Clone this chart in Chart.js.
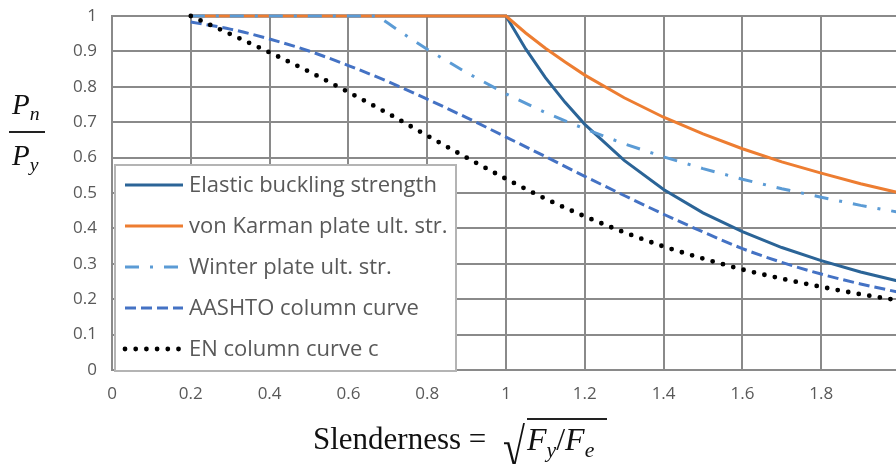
<!DOCTYPE html>
<html>
<head>
<meta charset="utf-8">
<script src="https://cdn.jsdelivr.net/npm/chart.js@4.4.0/dist/chart.umd.min.js"></script>
<style>
  html, body { margin: 0; padding: 0; background: #fff; overflow: hidden; }
  #wrap { position: relative; width: 910px; height: 464px; }
  .math { position: absolute; font-family: 'Liberation Serif', 'Times New Roman', serif; color: #111; white-space: nowrap; line-height: 1; }
  .math i { font-style: italic; }
  .sb { font-size: 0.68em; font-style: italic; position: relative; top: 0.3em; }
  #bar { position: absolute; left: 9px; top: 131px; width: 36px; height: 2px; background: #222; }
  #rad { position: absolute; left: 503px; top: 421px; font-size: 40px; transform: scaleY(1.35); transform-origin: top left; }
  #under { position: absolute; left: 527px; top: 418px; width: 80px; height: 1.5px; background: #222; }
</style>
</head>
<body>
<div id="wrap">
  <canvas id="chart"></canvas>
  <div class="math" style="left:12px; top:90px; font-size:29px"><i>P</i><span class="sb">n</span></div>
  <div id="bar"></div>
  <div class="math" style="left:12px; top:141px; font-size:29px"><i>P</i><span class="sb">y</span></div>
  <div class="math" style="left:313px; top:423px; font-size:31px">Slenderness =</div>
  <div class="math" id="rad">&#8730;</div>
  <div id="under"></div>
  <div class="math" style="left:527px; top:423px; font-size:32px"><i>F</i><span class="sb">y</span>/<i>F</i><span class="sb">e</span></div>
</div>
<script>
// axis ticks
const xTickValues = [0, 0.2, 0.4, 0.6, 0.8, 1, 1.2, 1.4, 1.6, 1.8, 2]
const yTickValues = [0, 0.1, 0.2, 0.3, 0.4, 0.5, 0.6, 0.7, 0.8, 0.9, 1]

const seriesNames = [
  'Elastic buckling strength',
  'von Karman plate ult. str.',
  'Winter plate ult. str.',
  'AASHTO column curve',
  'EN column curve c',
]

// elastic buckling
const elasticX = [0.2, 1, 1.05, 1.1, 1.15, 1.2, 1.3, 1.4, 1.5, 1.6, 1.7, 1.8, 1.9, 2]
const elasticY = [1, 1, 0.907, 0.826, 0.756, 0.694, 0.592, 0.51, 0.444, 0.391, 0.346, 0.309, 0.277, 0.25]

// von Karman
const karmanX = [0.2, 1, 1.05, 1.1, 1.15, 1.2, 1.3, 1.4, 1.5, 1.6, 1.7, 1.8, 1.9, 2]
const karmanY = [1, 1, 0.952, 0.909, 0.87, 0.833, 0.769, 0.714, 0.667, 0.625, 0.588, 0.556, 0.526, 0.5]

// Winter
const winterX = [0.2, 0.673, 0.7, 0.75, 0.8, 0.9, 1, 1.1, 1.2, 1.3, 1.4, 1.5, 1.6, 1.7, 1.8, 1.9, 2]
const winterY = [1, 1, 0.98, 0.942, 0.906, 0.84, 0.78, 0.727, 0.681, 0.639, 0.602, 0.569, 0.539, 0.512, 0.488, 0.465, 0.445]

// AASHTO + EN share the same x points
const columnX = [0.2, 0.3, 0.4, 0.5, 0.6, 0.7, 0.8, 0.9, 1, 1.1, 1.2, 1.3, 1.4, 1.5, 1.6, 1.7, 1.8, 1.9, 2]
const aashtoY = [0.983, 0.963, 0.935, 0.901, 0.86, 0.815, 0.765, 0.713, 0.658, 0.603, 0.547, 0.493, 0.44, 0.39, 0.343, 0.304, 0.271, 0.243, 0.219]
const enY = [1, 0.949, 0.897, 0.843, 0.785, 0.725, 0.662, 0.6, 0.54, 0.484, 0.434, 0.389, 0.349, 0.315, 0.284, 0.258, 0.235, 0.214, 0.196]

const pts = (xs, ys) => xs.map((x, i) => ({ x, y: ys[i] }))

const textFont = "'Open Sans', 'Noto Sans', sans-serif"

// legend drawn inside the plot, like the excel one
const legendBox = {
  id: 'legendBox',
  afterDraw(chart) {
    const { ctx, chartArea } = chart
    const left = chartArea.left + 3
    const top = 165
    const right = left + 341
    const bottom = chartArea.bottom + 1
    ctx.save()
    ctx.fillStyle = '#fff'
    ctx.fillRect(left, top, right - left, bottom - top)
    ctx.strokeStyle = '#b4b4b4'
    ctx.lineWidth = 2
    ctx.strokeRect(left, top, right - left, bottom - top)
    chart.data.datasets.forEach((ds, i) => {
      const y = top + 20 + i * 41
      ctx.beginPath()
      ctx.setLineDash(ds.borderDash || [])
      ctx.lineCap = ds.borderCapStyle || 'butt'
      ctx.strokeStyle = ds.borderColor
      ctx.lineWidth = ds.borderWidth
      ctx.moveTo(left + 10, y)
      ctx.lineTo(left + 68, y)
      ctx.stroke()
      ctx.setLineDash([])
      ctx.fillStyle = '#595959'
      ctx.font = '22px ' + textFont
      ctx.textBaseline = 'middle'
      ctx.fillText(ds.label, left + 74, y + 1)
    })
    ctx.restore()
  },
}

const gridColor = '#8a8a8a'
const tickFont = { family: textFont, size: 17 }

new Chart(document.getElementById('chart'), {
  type: 'line',
  data: {
    datasets: [
      {
        label: seriesNames[0],
        data: pts(elasticX, elasticY),
        borderColor: '#2b6497',
        borderWidth: 3,
        order: 4,
      },
      {
        label: seriesNames[1],
        data: pts(karmanX, karmanY),
        borderColor: '#ed7d31',
        borderWidth: 3,
        order: 3,
      },
      {
        label: seriesNames[2],
        data: pts(winterX, winterY),
        borderColor: '#5b9bd5',
        borderWidth: 3,
        borderDash: [14, 11, 3, 11],
        order: 2,
      },
      {
        label: seriesNames[3],
        data: pts(columnX, aashtoY),
        borderColor: '#4472c4',
        borderWidth: 3,
        borderDash: [11, 5],
        cubicInterpolationMode: 'monotone',
        order: 1,
      },
      {
        label: seriesNames[4],
        data: pts(columnX, enY),
        borderColor: '#000',
        borderWidth: 4.8,
        borderDash: [0, 10.7],
        borderCapStyle: 'round',
        cubicInterpolationMode: 'monotone',
        order: 0,
      },
    ],
  },
  options: {
    responsive: true,
    maintainAspectRatio: false,
    animation: false,
    layout: { padding: { top: 16, right: 10, left: 0, bottom: 0 } },
    elements: { point: { radius: 0 }, line: { tension: 0, fill: false } },
    datasets: { line: { clip: false } },
    plugins: { legend: { display: false }, tooltip: { enabled: false } },
    scales: {
      x: {
        type: 'linear',
        min: 0,
        max: 2,
        afterBuildTicks: (s) => { s.ticks = xTickValues.map((v) => ({ value: v })) },
        afterFit: (s) => { s.height = 94; s.paddingLeft = 0; s.paddingRight = 0 },
        grid: { color: gridColor, lineWidth: 2, drawTicks: false },
        border: { color: gridColor, width: 2 },
        ticks: { padding: 14, color: '#595959', font: tickFont, maxRotation: 0, autoSkip: false, callback: (v) => String(v) },
      },
      y: {
        min: 0,
        max: 1,
        afterBuildTicks: (s) => { s.ticks = yTickValues.map((v) => ({ value: v })) },
        afterFit: (s) => { s.width = 112; s.paddingTop = 0; s.paddingBottom = 0 },
        grid: { color: gridColor, lineWidth: 2, drawTicks: false },
        border: { color: gridColor, width: 2 },
        ticks: { padding: 15, color: '#595959', font: tickFont, autoSkip: false, callback: (v) => String(v) },
      },
    },
  },
  plugins: [legendBox],
})
</script>
</body>
</html>
